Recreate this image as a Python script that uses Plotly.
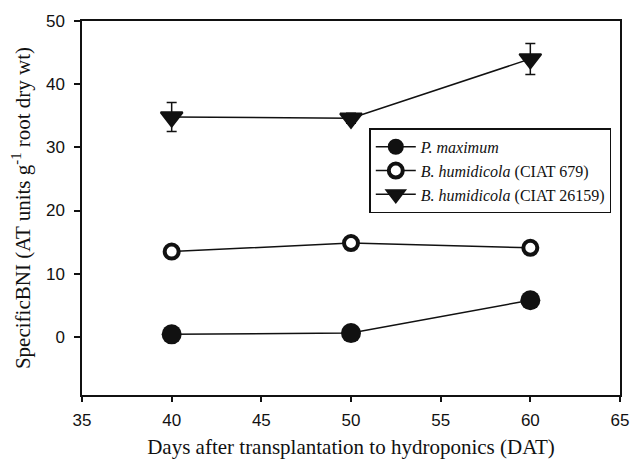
import plotly.graph_objects as go

days = [40, 50, 60]
p_maximum = [0.4, 0.6, 5.8]
ciat_679 = [13.5, 14.85, 14.1]
ciat_26159 = [34.8, 34.6, 44.0]
ciat_26159_err = [2.3, 0.8, 2.45]

names = ["<i>P. maximum</i>", "<i>B. humidicola</i> (CIAT 679)", "<i>B. humidicola</i> (CIAT 26159)"]
x_ticks = [35, 40, 45, 50, 55, 60, 65]
y_ticks = [0, 10, 20, 30, 40, 50]

BLACK = "#111111"
fig = go.Figure()
fig.add_trace(go.Scatter(
    x=days, y=p_maximum, name=names[0], mode="lines+markers",
    line=dict(color=BLACK, width=1.5),
    marker=dict(symbol="circle", size=20, color=BLACK, line=dict(width=0)),
))
fig.add_trace(go.Scatter(
    x=days, y=ciat_679, name=names[1], mode="lines+markers",
    line=dict(color=BLACK, width=1.5),
    marker=dict(symbol="circle", size=14, color="white", line=dict(width=4, color=BLACK)),
))
fig.add_trace(go.Scatter(
    x=days, y=ciat_26159, name=names[2], mode="lines+markers",
    line=dict(color=BLACK, width=1.5),
    marker=dict(symbol="triangle-down", size=19, color=BLACK, line=dict(width=2, color=BLACK)),
    error_y=dict(type="data", array=ciat_26159_err, visible=True, color=BLACK, thickness=1.5, width=5),
))

fig.update_layout(
    width=641, height=467,
    margin=dict(l=82, r=12, t=20, b=64),
    plot_bgcolor="white", paper_bgcolor="white",
    showlegend=True,
    legend=dict(
        x=0.534, y=0.713, xanchor="left", yanchor="top",
        bordercolor=BLACK, borderwidth=1.5, bgcolor="white",
        font=dict(family="Liberation Serif", size=16, color=BLACK),
        tracegroupgap=0, itemwidth=40,
    ),
    font=dict(family="Liberation Sans", color=BLACK),
)
fig.update_xaxes(
    range=[35, 65], tickvals=x_ticks, ticktext=[str(v) for v in x_ticks],
    showline=True, linecolor=BLACK, linewidth=1.5, mirror=True,
    ticks="outside", ticklen=5, tickwidth=1.5, tickcolor=BLACK,
    ticklabelstandoff=4,
    showgrid=False, zeroline=False,
    tickfont=dict(family="Liberation Sans", size=17, color=BLACK),
    title=dict(text="Days after transplantation to hydroponics (DAT)",
               font=dict(family="Liberation Serif", size=21, color=BLACK), standoff=10),
)
fig.update_yaxes(
    range=[-9.2, 50], tickvals=y_ticks, ticktext=[str(v) for v in y_ticks],
    showline=True, linecolor=BLACK, linewidth=1.5, mirror=True,
    ticks="outside", ticklen=6, tickwidth=1.5, tickcolor=BLACK,
    ticklabelstandoff=6,
    showgrid=False, zeroline=False,
    tickfont=dict(family="Liberation Sans", size=17, color=BLACK),
    title=dict(text="SpecificBNI (AT units g<sup>-1</sup> root dry wt)",
               font=dict(family="Liberation Serif", size=21, color=BLACK), standoff=10),
)

fig.write_html(
    "out.html",
    config={"displayModeBar": False},
    post_script="document.body.style.margin='0';document.body.style.overflow='hidden';",
)
